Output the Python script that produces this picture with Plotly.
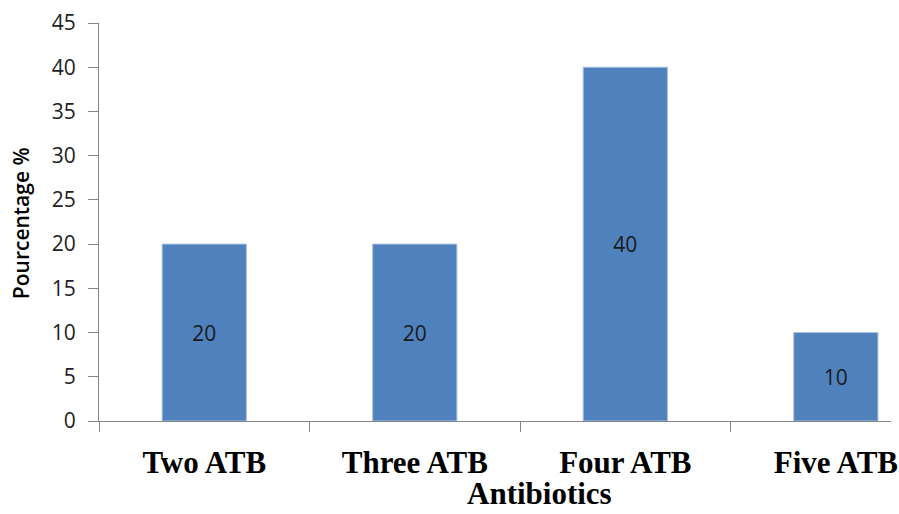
import plotly.graph_objects as go

categories = ["Two ATB", "Three ATB", "Four ATB", "Five ATB"]
percentages = [20, 20, 40, 10]
y_ticks = [0, 5, 10, 15, 20, 25, 30, 35, 40, 45]

BAR_COLOR = "#4F81BD"
AXIS_COLOR = "#868686"

fig = go.Figure(
    go.Bar(
        x=categories,
        y=percentages,
        text=[str(v) for v in percentages],
        textposition="inside",
        insidetextanchor="middle",
        textangle=0,
        textfont=dict(family="Open Sans", size=21, color="#1a1a1a"),
        marker=dict(color=BAR_COLOR, line=dict(color="#A7C0E0", width=1)),
        cliponaxis=False,
    )
)

fig.update_layout(
    width=899,
    height=514,
    margin=dict(l=99, r=8, t=23, b=93),
    plot_bgcolor="white",
    paper_bgcolor="white",
    bargap=0.6,
    showlegend=False,
    xaxis=dict(
        type="category",
        range=[-0.5, 3.262],
        automargin=False,
        showline=True,
        linecolor=AXIS_COLOR,
        linewidth=1,
        ticks="outside",
        tickson="boundaries",
        ticklen=10,
        tickcolor=AXIS_COLOR,
        showgrid=False,
        tickfont=dict(family="Liberation Serif", size=31, color="black", weight="bold"),
        ticklabelstandoff=14,
    ),
    yaxis=dict(
        range=[0, 45],
        tickvals=y_ticks,
        automargin=False,
        showline=True,
        linecolor=AXIS_COLOR,
        linewidth=1,
        ticks="outside",
        ticklen=10,
        tickcolor=AXIS_COLOR,
        showgrid=False,
        zeroline=False,
        tickfont=dict(family="Open Sans", size=21, color="#222222"),
        ticklabelstandoff=8,
    ),
    annotations=[
        dict(
            text="Antibiotics",
            xref="paper", yref="paper",
            x=0.5556, y=-0.2312,
            xanchor="center", yanchor="bottom",
            showarrow=False,
            font=dict(family="Liberation Serif", size=31, color="black", weight="bold"),
        ),
        dict(
            text="Pourcentage %",
            xref="paper", yref="paper",
            x=-0.0985, y=0.497,
            xanchor="center", yanchor="middle",
            textangle=-90,
            showarrow=False,
            font=dict(family="Open Sans", size=21, color="black", weight=600),
        ),
    ],
)

fig.write_html("out.html")
